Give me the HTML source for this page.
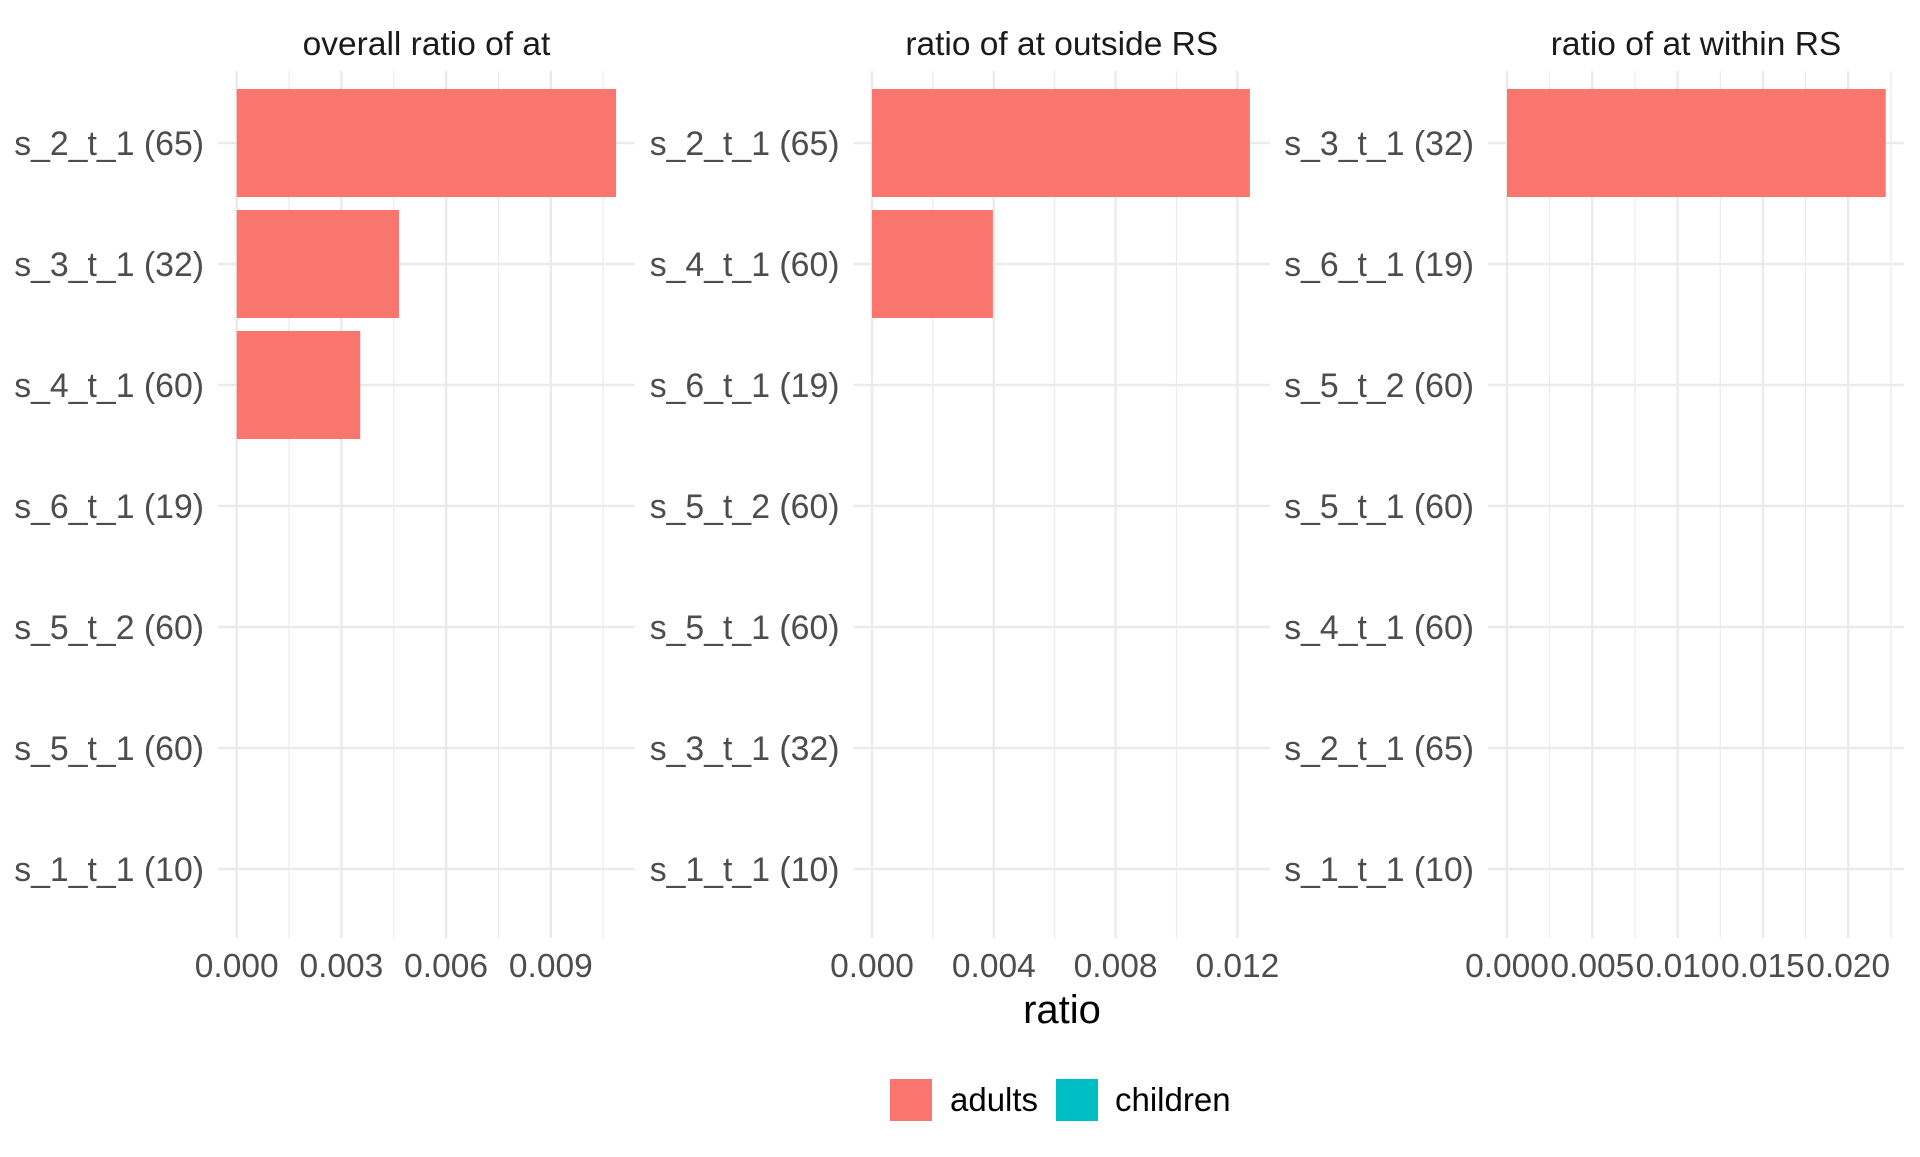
<!DOCTYPE html>
<html><head><meta charset="utf-8"><style>
body{margin:0;background:#fff;}
svg text{font-family:"Liberation Sans",sans-serif;}
</style></head><body>
<svg id="chart" width="1920" height="1152" viewBox="0 0 1920 1152" xmlns="http://www.w3.org/2000/svg"></svg>
<script>
const panelTitles = ["overall ratio of at", "ratio of at outside RS", "ratio of at within RS"];
const panel1Cats = ["s_2_t_1 (65)","s_3_t_1 (32)","s_4_t_1 (60)","s_6_t_1 (19)","s_5_t_2 (60)","s_5_t_1 (60)","s_1_t_1 (10)"];
const panel1Vals = [0.01087, 0.00465, 0.00354, 0, 0, 0, 0];
const panel2Cats = ["s_2_t_1 (65)","s_4_t_1 (60)","s_6_t_1 (19)","s_5_t_2 (60)","s_5_t_1 (60)","s_3_t_1 (32)","s_1_t_1 (10)"];
const panel2Vals = [0.01241, 0.00397, 0, 0, 0, 0, 0];
const panel3Cats = ["s_3_t_1 (32)","s_6_t_1 (19)","s_5_t_2 (60)","s_5_t_1 (60)","s_4_t_1 (60)","s_2_t_1 (65)","s_1_t_1 (10)"];
const panel3Vals = [0.02220, 0, 0, 0, 0, 0, 0];
const panel1Ticks = ["0.000","0.003","0.006","0.009"];
const panel2Ticks = ["0.000","0.004","0.008","0.012"];
const panel3Ticks = ["0.000","0.005","0.010","0.015","0.020"];

const NS="http://www.w3.org/2000/svg";
const svg=document.getElementById('chart');
function mk(tag,attrs,parent){const e=document.createElementNS(NS,tag);for(const k in attrs)e.setAttribute(k,attrs[k]);(parent||svg).appendChild(e);return e;}

const panels=[
 {left:218,right:635,x0:236.7,step:0.003,pxPerUnit:104.7/0.003,cats:panel1Cats,vals:panel1Vals,ticks:panel1Ticks},
 {left:853.5,right:1270,x0:872,step:0.004,pxPerUnit:121.8/0.004,cats:panel2Cats,vals:panel2Vals,ticks:panel2Ticks},
 {left:1488,right:1904,x0:1507,step:0.005,pxPerUnit:85.3/0.005,cats:panel3Cats,vals:panel3Vals,ticks:panel3Ticks}
];
const plotTop=71,plotBottom=938,rowY0=143,rowStep=121,barH=108;
panels.forEach((p,pi)=>{
  const g=mk('g',{});
  
  
  const xs=v=>p.x0+v*p.pxPerUnit;
  const ys=i=>rowY0+i*rowStep;
  for(let k=0;k<50;k++){const v=(k+0.5)*p.step;const x=xs(v);if(x>p.right)break;
    const l=mk('line',{x1:x,x2:x,y1:plotTop,y2:plotBottom,stroke:'#ebebeb','stroke-width':1.2},g);
    
    }
  p.ticks.forEach((t,k)=>{const x=xs(parseFloat(t));
    const l=mk('line',{x1:x,x2:x,y1:plotTop,y2:plotBottom,stroke:'#ebebeb','stroke-width':2.4},g);
    
    
    const tx=mk('text',{x:x,y:977,'text-anchor':'middle','font-size':33.5,fill:'#4d4d4d'},g);
    tx.textContent=t;
    
    });
  p.cats.forEach((c,i)=>{const y=ys(i);
    const l=mk('line',{x1:p.left,x2:p.right,y1:y,y2:y,stroke:'#ebebeb','stroke-width':2.4},g);
    
    
    const tx=mk('text',{x:p.left-14,y:y+12,'text-anchor':'end','font-size':33.8,fill:'#4d4d4d'},g);
    tx.textContent=c;
    
    });
  p.vals.forEach((v,i)=>{if(v<=0)return;
    const r=mk('rect',{x:xs(0),y:ys(i)-barH/2,width:xs(v)-xs(0),height:barH,fill:'#f8766d'},g);
    
    });
  const st=mk('text',{x:(p.left+p.right)/2,y:55,'text-anchor':'middle','font-size':33.5,fill:'#1a1a1a'},g);
  st.textContent=panelTitles[pi];
  
  
});
const xt=mk('text',{x:1062,y:1023,'text-anchor':'middle','font-size':40,fill:'#000'});
xt.textContent='ratio';


const legendKeys=[{label:'adults',color:'#f8766d',x:890,tx:950},{label:'children',color:'#00bfc4',x:1056,tx:1115}];
legendKeys.forEach(k=>{
  const r=mk('rect',{x:k.x,y:1079,width:42,height:42,fill:k.color});
  
  
  const t=mk('text',{x:k.tx,y:1111,'font-size':33,fill:'#000'});
  t.textContent=k.label;
  
  
});
</script>
</body></html>
